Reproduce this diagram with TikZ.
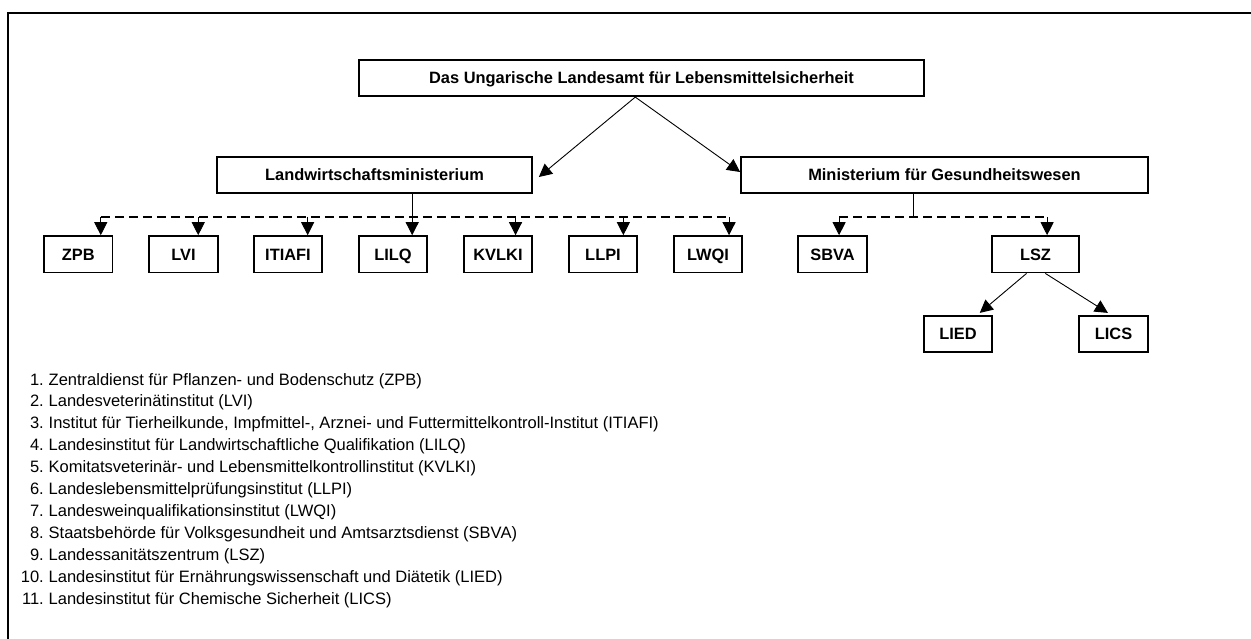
\documentclass[tikz,border=0pt]{standalone}
\usepackage{fontspec}
\setmainfont{Liberation Sans}
\usetikzlibrary{arrows.meta,calc}
\begin{document}
\begin{tikzpicture}[x=1pt,y=-1pt,
  box/.style={draw,line width=1.7pt,inner sep=0pt,minimum height=36.5pt,
    text height=11.8pt,text depth=0pt,
    font=\fontsize{16.4}{19}\selectfont\bfseries},
  small/.style={box,minimum width=68.5pt},
  arr/.style={line width=0.9pt,-{Triangle[length=13pt,width=13pt]}},
  bus/.style={line width=1.3pt,dash pattern=on 9pt off 5pt},
  thin/.style={line width=0.9pt},
  num/.style={inner sep=0pt,anchor=base east,font=\fontsize{16.5}{19}\selectfont},
  item/.style={inner sep=0pt,anchor=base west,font=\fontsize{16.5}{19}\selectfont}]
\useasboundingbox (0,0) rectangle (1251,639);
\fill[white] (0,0) rectangle (1251,639);
% frame
\draw[line width=1.8pt] (8,639) -- (8,13) -- (1251,13);
% boxes
\node[box,minimum width=565pt] (top) at (641.5,78) {Das Ungarische Landesamt für Lebensmittelsicherheit};
\node[box,minimum width=315pt] (LW) at (374.5,175) {Landwirtschaftsministerium};
\node[box,minimum width=407pt] (MG) at (944.5,175) {Ministerium für Gesundheitswesen};
\node[small] (ZPB) at (78.3,254.3) {ZPB};
\node[small] (LVI) at (183.5,254.3) {LVI};
\node[small] (ITIAFI) at (288,254.3) {ITIAFI};
\node[small] (LILQ) at (393,254.3) {LILQ};
\node[small] (KVLKI) at (498,254.3) {KVLKI};
\node[small] (LLPI) at (603,254.3) {LLPI};
\node[small] (LWQI) at (708,254.3) {LWQI};
\node[small] (SBVA) at (832.5,254.3) {SBVA};
\node[box,minimum width=87.6pt] (LSZ) at (1035.5,254.3) {LSZ};
\node[small] (LIED) at (958,334) {LIED};
\node[small] (LICS) at (1113.5,334) {LICS};
% top arrows
\coordinate (topout) at ($(top.south west)!0.489!(top.south east)$);
\coordinate (lwin) at ($(LW.east)+(6,2)$);
\coordinate (mgin) at ($(MG.west)+(0,-3)$);
\draw[arr] (topout) -- (lwin);
\draw[arr] (topout) -- (mgin);
% Landwirtschaftsministerium
\coordinate (lwdown) at ($(LW.south west)!0.619!(LW.south east)$);
\coordinate (busL) at (0,217);
\foreach \b/\f in {ZPB/0.82,LVI/0.71,ITIAFI/0.78,KVLKI/0.75,LLPI/0.79,LWQI/0.8}{
  \coordinate (a\b) at ($(\b.north west)!\f!(\b.north east)$);
  \draw[arr] (a\b |- busL) -- (a\b);
}
\draw[bus] (aZPB |- busL) -- (aLWQI |- busL);
\draw[arr] (lwdown) -- (lwdown |- LILQ.north);
% Ministerium fuer Gesundheitswesen
\coordinate (mgdown) at ($(MG.south west)!0.423!(MG.south east)$);
\coordinate (aSBVA) at ($(SBVA.north west)!0.594!(SBVA.north east)$);
\coordinate (aLSZ) at ($(LSZ.north west)!0.63!(LSZ.north east)$);
\draw[thin] (mgdown) -- (mgdown |- busL);
\draw[bus] (aSBVA |- busL) -- (aLSZ |- busL);
\draw[arr] (aSBVA |- busL) -- (aSBVA);
\draw[arr] (aLSZ |- busL) -- (aLSZ);
% LSZ children
\coordinate (lszA) at ($(LSZ.south west)!0.4!(LSZ.south east)$);
\coordinate (lszB) at ($(LSZ.south west)!0.61!(LSZ.south east)$);
\coordinate (liedin) at ($(LIED.north west)!0.81!(LIED.north east)+(0,-2)$);
\coordinate (licsin) at ($(LICS.north west)!0.42!(LICS.north east)+(0,-2)$);
\draw[arr] (lszA) -- (liedin);
\draw[arr] (lszB) -- (licsin);
% legend
\foreach \n/\t [count=\i] in {
  1/{Zentraldienst für Pflanzen- und Bodenschutz (ZPB)},
  2/{Landesveterinätinstitut (LVI)},
  3/{Institut für Tierheilkunde, Impfmittel-, Arznei- und Futtermittelkontroll-Institut (ITIAFI)},
  4/{Landesinstitut für Landwirtschaftliche Qualifikation (LILQ)},
  5/{Komitatsveterinär- und Lebensmittelkontrollinstitut (KVLKI)},
  6/{Landeslebensmittelprüfungsinstitut (LLPI)},
  7/{Landesweinqualifikationsinstitut (LWQI)},
  8/{Staatsbehörde für Volksgesundheit und Amtsarztsdienst (SBVA)},
  9/{Landessanitätszentrum (LSZ)},
  10/{Landesinstitut für Ernährungswissenschaft und Diätetik (LIED)},
  11/{Landesinstitut für Chemische Sicherheit (LICS)}}{
  \node[num] (n\i) at (44,{385+21.9*(\i-1)}) {\n.};
  \node[item] (t\i) at (48.5,{385+21.9*(\i-1)}) {\t};
}
\end{tikzpicture}
\end{document}
